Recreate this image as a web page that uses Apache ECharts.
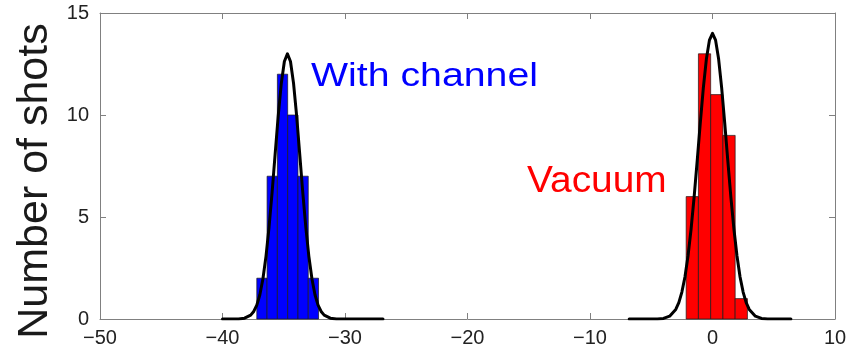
<!DOCTYPE html>
<html>
<head>
<meta charset="utf-8">
<script src="https://cdn.jsdelivr.net/npm/echarts@6/dist/echarts.min.js"></script>
<style>
  html, body { margin: 0; padding: 0; background: #fff; }
  #chart { width: 859px; height: 351px; }
</style>
</head>
<body>
<div id="chart"></div>
<script>
// histogram bins (edges) and counts
const blueEdges = [-37.2, -36.36, -35.52, -34.68, -33.84, -33.0, -32.16];
const blueCounts = [2, 7, 12, 10, 7, 2];
const redEdges = [-2.15, -1.15, -0.15, 0.85, 1.85, 2.85];
const redCounts = [6, 13, 11, 9, 1];

// fitted curves
const blueFitX = [-40, -38.7, -38.2, -37.7, -37.45, -37.2, -36.95, -36.7, -36.45, -36.2, -35.95, -35.7, -35.45, -35.2, -34.95,
  -34.7, -34.45, -34.2, -33.95, -33.7, -33.45, -33.2, -32.95, -32.7, -32.45, -32.2, -31.95, -31.7, -31.2, -30.7, -26.9];
const blueFitY = [0, 0, 0.04, 0.19, 0.37, 0.68, 1.19, 1.97, 3.07, 4.5, 6.22, 8.11, 9.97, 11.55, 12.62,
  13, 12.62, 11.55, 9.97, 8.11, 6.22, 4.5, 3.07, 1.97, 1.19, 0.68, 0.37, 0.19, 0.04, 0, 0];
const redFitX = [-6.8, -4.5, -4, -3.5, -3, -2.75, -2.5, -2.25, -2, -1.75, -1.5, -1.25, -1, -0.75, -0.5, -0.25,
  0, 0.25, 0.5, 0.75, 1, 1.25, 1.5, 1.75, 2, 2.25, 2.5, 2.75, 3, 3.5, 4, 4.5, 6.4];
const redFitY = [0, 0, 0.03, 0.14, 0.47, 0.8, 1.32, 2.06, 3.09, 4.4, 5.98, 7.75, 9.59, 11.32, 12.74, 13.67,
  14, 13.67, 12.74, 11.32, 9.59, 7.75, 5.98, 4.4, 3.09, 2.06, 1.32, 0.8, 0.47, 0.14, 0.03, 0, 0];

const xMin = -50, xMax = 10, xStep = 10;
const yMin = 0, yMax = 15, yStep = 5;
const yTitle = 'Number of shots';
const blueLabel = 'With channel';
const redLabel = 'Vacuum';

const font = '"Liberation Sans", Arial, Helvetica, sans-serif';
const tickFont = '"Liberation Sans Narrow", "Liberation Sans", Arial, sans-serif';
const frameColor = '#808080';

function bins(edges, counts) {
  return counts.map((c, i) => [edges[i], edges[i + 1], c]);
}
function pairs(xs, ys) {
  return xs.map((x, i) => [x, ys[i]]);
}
function histSeries(data, color) {
  return {
    type: 'custom',
    xAxisIndex: 0, yAxisIndex: 0,
    data: data,
    encode: { x: [0, 1], y: 2 },
    z: 2,
    renderItem: function (params, api) {
      const p0 = api.coord([api.value(0), api.value(2)]);
      const p1 = api.coord([api.value(1), 0]);
      return {
        type: 'rect',
        shape: { x: p0[0], y: p0[1], width: p1[0] - p0[0], height: p1[1] - p0[1] },
        style: { fill: color, stroke: '#1a1a1a', lineWidth: 0.7 }
      };
    }
  };
}
function fitSeries(data) {
  return {
    type: 'line',
    xAxisIndex: 0, yAxisIndex: 0,
    data: data,
    showSymbol: false,
    z: 5,
    lineStyle: { color: '#000', width: 3, join: 'round', cap: 'round' }
  };
}

const minus = v => String(v).replace('-', '\u2212');

const axisCommon = {
  axisLine: { show: true, onZero: false, lineStyle: { color: frameColor, width: 1 } },
  axisTick: { show: true, inside: true, length: 6, lineStyle: { color: frameColor } },
  splitLine: { show: false }
};

const chart = echarts.init(document.getElementById('chart'));
chart.setOption({
  animation: false,
  backgroundColor: '#fff',
  grid: { left: 100, right: 24, top: 13, bottom: 32, containLabel: false },
  xAxis: [
    Object.assign({
      type: 'value', position: 'bottom', min: xMin, max: xMax, interval: xStep,
      axisLabel: { color: '#222', fontSize: 20, fontFamily: tickFont, margin: 9, formatter: minus }
    }, axisCommon),
    Object.assign({
      type: 'value', position: 'top', min: xMin, max: xMax, interval: xStep,
      axisLabel: { show: false }
    }, axisCommon)
  ],
  yAxis: [
    Object.assign({
      type: 'value', position: 'left', min: yMin, max: yMax, interval: yStep,
      axisLabel: { color: '#222', fontSize: 20, fontFamily: tickFont, margin: 11 }
    }, axisCommon),
    Object.assign({
      type: 'value', position: 'right', min: yMin, max: yMax, interval: yStep,
      axisLabel: { show: false }
    }, axisCommon)
  ],
  series: [
    histSeries(bins(blueEdges, blueCounts), '#0000ff'),
    histSeries(bins(redEdges, redCounts), '#ff0000'),
    fitSeries(pairs(blueFitX, blueFitY)),
    fitSeries(pairs(redFitX, redFitY))
  ],
  graphic: [
    {
      type: 'text', x: 35, y: 181, rotation: Math.PI / 2,
      style: { text: yTitle, fill: '#1a1a1a', font: '43px ' + font, align: 'center', verticalAlign: 'middle' }
    },
    {
      type: 'text', x: 311, y: 77, scaleX: 1.19,
      style: { text: blueLabel, fill: '#0000ff', font: '33px ' + font, align: 'left', verticalAlign: 'middle' }
    },
    {
      type: 'text', x: 527, y: 182, scaleX: 1.08,
      style: { text: redLabel, fill: '#ff0000', font: '36px ' + font, align: 'left', verticalAlign: 'middle' }
    }
  ]
});
</script>
</body>
</html>
